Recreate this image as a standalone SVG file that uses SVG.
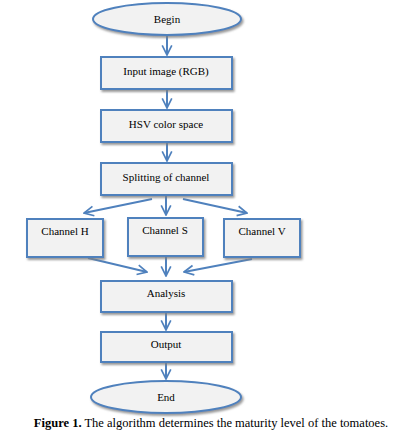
<svg xmlns="http://www.w3.org/2000/svg" width="411" height="443" viewBox="0 0 411 443">
<style>
.box{fill:#f2f2f2;stroke:#4f81bd;stroke-width:2;filter:url(#sh)}
.t{font-family:'Liberation Serif','Times New Roman','DejaVu Serif',serif;font-size:11px;fill:#000;text-anchor:middle}
.c{stroke:#4f81bd;stroke-width:2;fill:none;marker-end:url(#ah)}
</style>
<defs>
<filter id="sh" x="-10%" y="-20%" width="130%" height="150%">
<feDropShadow dx="1.5" dy="2" stdDeviation="0.8" flood-color="#808080" flood-opacity="0.8"/>
</filter>
<marker id="ah" viewBox="0 0 10 10" refX="9" refY="5" markerWidth="6" markerHeight="6" orient="auto" markerUnits="strokeWidth">
<path d="M1,1 L9,5 L1,9" fill="none" stroke="#4f81bd" stroke-width="1.4"/>
</marker>
</defs>
<g id="connectors">
<line class="c" x1="167" y1="36" x2="167" y2="55"/>
<line class="c" x1="167" y1="90" x2="167" y2="108"/>
<line class="c" x1="167" y1="143" x2="167" y2="161"/>
<line class="c" x1="152" y1="199" x2="84" y2="213"/>
<line class="c" x1="166" y1="196" x2="166" y2="215"/>
<line class="c" x1="183" y1="199" x2="247" y2="213"/>
<line class="c" x1="88" y1="258" x2="147" y2="272"/>
<line class="c" x1="166" y1="257" x2="166" y2="276"/>
<line class="c" x1="252" y1="259" x2="184" y2="272"/>
<line class="c" x1="166" y1="313" x2="166" y2="330"/>
<line class="c" x1="166" y1="363" x2="166" y2="379"/>
</g>
<g id="begin"><ellipse class="box" cx="167" cy="19" rx="74" ry="16"/><text class="t" x="167" y="23">Begin</text></g>
<g id="input"><rect class="box" x="101" y="57" width="131" height="32"/><text class="t" x="166" y="75">Input image (RGB)</text></g>
<g id="hsv"><rect class="box" x="101" y="110" width="131" height="32"/><text class="t" x="166" y="128">HSV color space</text></g>
<g id="split"><rect class="box" x="101" y="163" width="131" height="32"/><text class="t" x="166" y="181">Splitting of channel</text></g>
<g id="chH"><rect class="box" x="27" y="219" width="76" height="38"/><text class="t" x="65" y="235">Channel H</text></g>
<g id="chS"><rect class="box" x="128" y="218" width="75" height="38"/><text class="t" x="165" y="234">Channel S</text></g>
<g id="chV"><rect class="box" x="224" y="219" width="76" height="38"/><text class="t" x="262" y="235">Channel V</text></g>
<g id="analysis"><rect class="box" x="101" y="281" width="131" height="31"/><text class="t" x="166" y="297">Analysis</text></g>
<g id="output"><rect class="box" x="101" y="332" width="131" height="30"/><text class="t" x="166" y="348">Output</text></g>
<g id="end"><ellipse class="box" cx="166" cy="397" rx="75" ry="16"/><text class="t" x="166" y="401">End</text></g>
<text class="t" x="211" y="427" font-size="12.5" style="font-size:12.5px"><tspan font-weight="bold">Figure 1.</tspan> The algorithm determines the maturity level of the tomatoes.</text>
</svg>
